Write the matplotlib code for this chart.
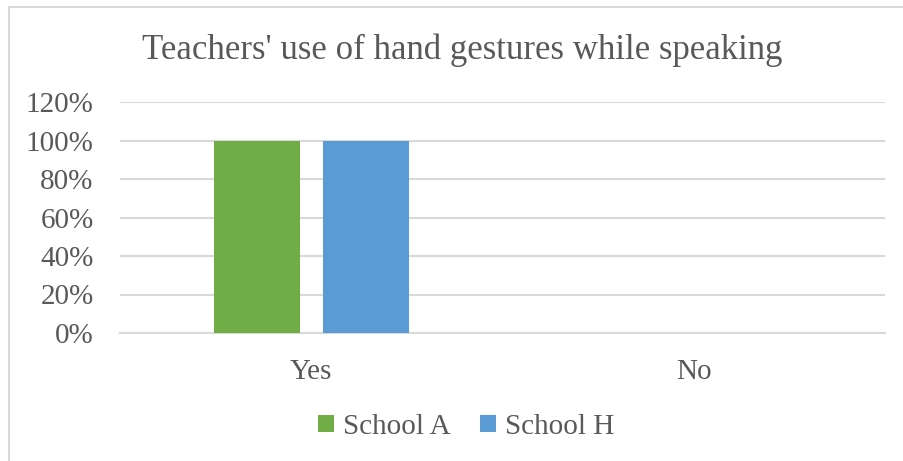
import numpy as np
import matplotlib.pyplot as plt
from matplotlib.patches import Rectangle

# datos del grafico
categorias = ["Yes", "No"]
escuela_a = [1.0, 0.0]
escuela_h = [1.0, 0.0]
series = ["School A", "School H"]
colores = ["#70AD47", "#5B9BD5"]
ticks_y = [0, 0.2, 0.4, 0.6, 0.8, 1.0, 1.2]

plt.rcParams["font.family"] = ["Liberation Serif", "DejaVu Serif"]
texto = "#595959"

fig = plt.figure(figsize=(9.04, 4.61), dpi=100)
W, H = 904, 461

# marco del area del grafico
fig.patches.append(Rectangle((9 / W, -0.1), 1.2, (H - 7) / H + 0.1, transform=fig.transFigure,
                             fill=False, edgecolor="#D9D9D9", linewidth=1.5))

ax = fig.add_axes([120 / W, (H - 333) / H, 765 / W, 231 / H])

x = np.arange(len(categorias))
ancho = 0.225
sep = 0.06
ax.bar(x - (ancho + sep) / 2, escuela_a, width=ancho, color=colores[0], label=series[0], zorder=3)
ax.bar(x + (ancho + sep) / 2, escuela_h, width=ancho, color=colores[1], label=series[1], zorder=3)

ax.set_xlim(-0.5, 1.5)
ax.set_ylim(0, 1.2)
ax.set_yticks(ticks_y)
ax.set_yticklabels([f"{int(round(t * 100))}%" for t in ticks_y])
ax.set_xticks(x)
ax.set_xticklabels(categorias)
ax.grid(axis="y", color="#D9D9D9", linewidth=1.5, zorder=0)
for s in ["top", "right", "left"]:
    ax.spines[s].set_visible(False)
ax.spines["bottom"].set_color("#D9D9D9")
ax.spines["bottom"].set_linewidth(1.5)
ax.tick_params(axis="both", length=0, labelsize=21, colors=texto)
ax.tick_params(axis="y", pad=19)
ax.tick_params(axis="x", pad=19)

fig.text(462 / W, 1 - 50 / H, "Teachers' use of hand gestures while speaking",
         ha="center", va="center", fontsize=25, color=texto)

fig.legend(loc="center", bbox_to_anchor=(466 / W, 1 - 427 / H), ncol=2, frameon=False,
           fontsize=21, labelcolor=texto, handlelength=0.55, handleheight=0.55,
           handletextpad=0.3, columnspacing=1.0)

fig.savefig("out.png", dpi=100)
